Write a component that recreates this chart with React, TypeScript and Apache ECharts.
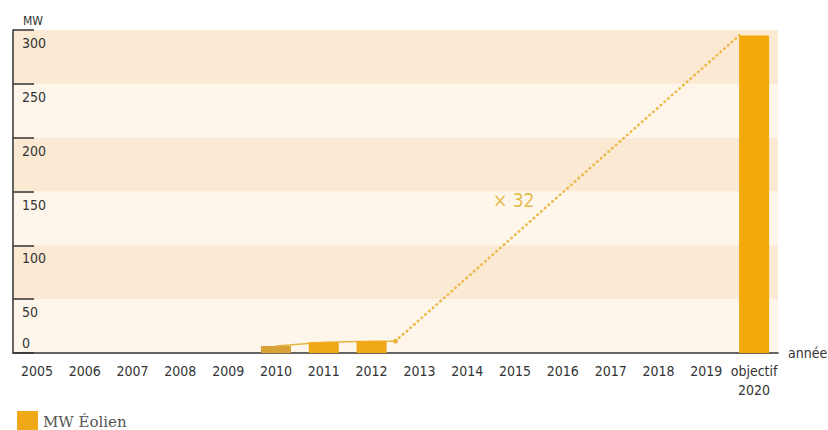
import React, { useEffect, useRef } from "react";
import * as echarts from "echarts";

const categories = [
  "2005", "2006", "2007", "2008", "2009", "2010", "2011", "2012",
  "2013", "2014", "2015", "2016", "2017", "2018", "2019", "objectif\n2020",
];
const windMW: (number | null)[] = [
  null, null, null, null, null, 6.5, 10, 11,
  null, null, null, null, null, null, null, 295,
];
const yTicks = [0, 50, 100, 150, 200, 250, 300];
// trend line points: [category position, MW]
const trendSolid = [[5.5, 6.5], [6.5, 10], [7.5, 11], [8, 11]];
const trendDotted = [[8, 11], [15.19, 295]];
const multiplierLabel = "× 32";
const seriesName = "MW Éolien";

const FONT = "'DejaVu Sans Condensed', 'DejaVu Sans', sans-serif";

export default function App() {
  const ref = useRef<HTMLDivElement>(null);
  useEffect(() => {
    if (!ref.current) return;
    const chart = echarts.init(ref.current, null, { renderer: "svg" });
    const barColors = ["#D9A236", "#F0A816", "#F0A816", "#F3A90A"];
    let k = 0;
    const barData = windMW.map((v) => {
      if (v == null) return null;
      const c = barColors[Math.min(k++, barColors.length - 1)];
      return { value: v, itemStyle: { color: c } };
    });
    chart.setOption({
      animation: false,
      backgroundColor: "#ffffff",
      grid: {
        left: 13, right: 50, top: 30, bottom: 77,
        containLabel: false, outerBoundsMode: "none",
      },
      legend: {
        data: [seriesName],
        left: 12, top: 406,
        itemWidth: 21, itemHeight: 21,
        icon: "rect",
        textStyle: { fontFamily: "'DejaVu Serif', serif", fontSize: 15, color: "#555" },
      },
      xAxis: [
        {
          type: "category",
          data: categories,
          boundaryGap: true,
          axisLine: { lineStyle: { color: "#333", width: 1.5 } },
          axisTick: { inside: true, length: 8, interval: 0, lineStyle: { color: "#333", width: 1.5 } },
          axisLabel: {
            interval: 0, margin: 8, fontFamily: FONT, fontSize: 14, lineHeight: 19,
            color: "#333",
          },
          name: "année",
          nameLocation: "end",
          nameGap: 10,
          nameTextStyle: {
            fontFamily: FONT, fontSize: 14, color: "#333",
            verticalAlign: "middle", padding: [0, 0, 10, 0],
          },
        },
        { type: "value", min: 0, max: 16, show: false },
      ],
      yAxis: [
        {
          type: "value", min: 0, max: 300, interval: 50,
          axisLine: { show: true, lineStyle: { color: "#333", width: 1.5 } },
          axisTick: { show: true, inside: true, length: 21, lineStyle: { color: "#333", width: 1.5 } },
          splitLine: { show: false },
          splitArea: { show: true, areaStyle: { color: ["#FEF6EA", "#FCE9D3"] } },
          axisLabel: {
            inside: true, margin: 9, fontFamily: FONT, fontSize: 14, color: "#333",
            verticalAlign: "top", lineHeight: 14, padding: [6, 0, 0, 0],
            formatter: (v: number) => (v === 0 ? "" : String(v)),
          },
          name: "MW",
          nameLocation: "end",
          nameGap: 3,
          nameTextStyle: {
            fontFamily: FONT, fontSize: 12, color: "#333",
            align: "left", verticalAlign: "bottom", padding: [0, 0, 0, 10],
          },
        },
        {
          type: "value", min: 0, max: 300, interval: 50, position: "left", offset: 0,
          axisLine: { show: false }, axisTick: { show: false }, splitLine: { show: false },
          axisLabel: {
            inside: true, margin: 9, fontFamily: FONT, fontSize: 14, color: "#333",
            verticalAlign: "bottom", lineHeight: 14, padding: [0, 0, 3, 0],
            formatter: (v: number) => (v === yTicks[0] ? String(v) : ""),
          },
        },
      ],
      series: [
        {
          type: "line", xAxisIndex: 1, yAxisIndex: 0, z: 1,
          data: trendSolid, showSymbol: false, symbol: "none",
          lineStyle: { color: "#E8B540", width: 1.5 },
          silent: true,
        },
        {
          type: "line", xAxisIndex: 1, yAxisIndex: 0, z: 1,
          data: trendDotted.map((p, i) =>
            i === 0 ? { value: p, symbol: "circle", symbolSize: 5 } : { value: p, symbol: "none" }
          ),
          showSymbol: true,
          itemStyle: { color: "#E8B540" },
          lineStyle: { color: "#EDB94A", width: 2.6, type: [0.5, 4.5], cap: "round" },
          silent: true,
        },
        {
          name: seriesName, type: "bar", xAxisIndex: 0, yAxisIndex: 0, z: 3,
          data: barData, barWidth: 30,
          itemStyle: { color: "#F0A816" },
        },
      ],
      graphic: [
        {
          type: "text", left: 493, top: 190, z: 100,
          style: { text: multiplierLabel, fontFamily: FONT, fontSize: 19, fill: "#E2BD4E" },
        },
      ],
    });
    return () => chart.dispose();
  }, []);
  return <div ref={ref} style={{ position: "fixed", left: 0, top: 0, width: 828, height: 430 }} />;
}
